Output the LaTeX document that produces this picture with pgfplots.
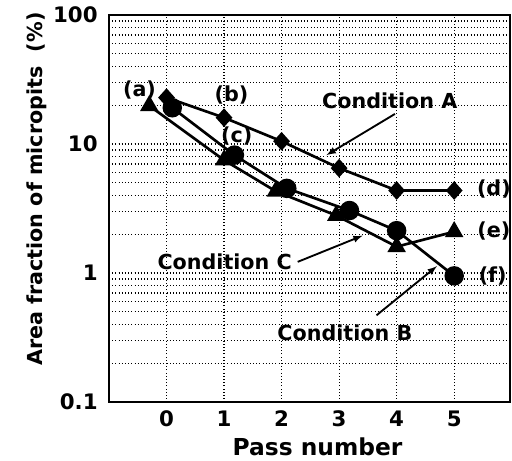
\documentclass[border=0pt]{standalone}
\usepackage{fontspec}
\setmainfont{DejaVu Sans}
\usepackage{pgfplots}
\pgfplotsset{compat=1.18}

\begin{document}
\begin{tikzpicture}
\useasboundingbox (-81.75pt,-44.25pt) rectangle (302.25pt,301.5pt);
\begin{axis}[
  at={(0,0)}, anchor=south west,
  scale only axis,
  width=300.75pt, height=290.25pt,
  ymode=log,
  xmin=-1, xmax=5.97,
  ymin=0.1, ymax=100,
  xtick={0,1,2,3,4,5},
  ytick={0.1,1,10,100},
  yticklabels={0.1,1,10,100},
  major tick length=0pt, minor tick length=0pt,
  grid=both,
  major grid style={black, dotted, line width=0.9pt},
  minor grid style={black, dotted, line width=0.9pt},
  axis line style={line width=1.3pt},
  font=\fontsize{15.5}{18}\selectfont\bfseries,
  /pgf/number format/assume math mode=true,
  ticklabel style={font=\fontsize{16}{18}\selectfont\bfseries},
  yticklabel style={xshift=-5pt},
  xticklabel style={yshift=-3pt},
  xlabel={Pass number},
  ylabel={Area fraction of micropits~~(\%)},
  xlabel style={at={(axis description cs:0.52,-0.116)}, anchor=center, font=\fontsize{17.5}{20}\selectfont\bfseries},
  ylabel style={at={(axis description cs:-0.18,0.55)}, anchor=center, font=\fontsize{15.5}{18}\selectfont\bfseries},
  every axis plot/.append style={black, line width=2pt},
  clip=false,
]
% Condition A
\addplot[mark=diamond*, mark size=5.5pt, mark options={xscale=1.2}] coordinates {
  (0,22.9) (1,16.0) (2,10.5) (3,6.5) (4,4.36) (5,4.36)};
% Condition B
\addplot[mark=*, mark size=6.3pt] coordinates {
  (0.1,19.1) (1.18,8.2) (2.09,4.53) (3.18,3.05) (4,2.13) (5,0.95)};
% Condition C
\addplot[mark=triangle*, mark size=6pt] coordinates {
  (-0.3,19.8) (1.0,7.5) (1.9,4.3) (2.95,2.79) (4,1.6) (5,2.09)};

\node at (axis cs:-0.47,26) {(a)};
\node at (axis cs:1.13,24) {(b)};
\node at (axis cs:1.22,11.5) {(c)};
\node at (axis cs:5.69,4.5) {(d)};
\node at (axis cs:5.69,2.1) {(e)};
\node at (axis cs:5.67,0.95) {(f)};

\node at (axis cs:3.88,21.7) {Condition A};
\draw[-latex, line width=1.4pt] (axis cs:3.97,17.1) -- (axis cs:2.78,8.2);
\node at (axis cs:1.01,1.22) {Condition C};
\draw[-latex, line width=1.4pt] (axis cs:2.28,1.22) -- (axis cs:3.41,1.95);
\node at (axis cs:3.10,0.346) {Condition B};
\draw[-latex, line width=1.4pt] (axis cs:3.65,0.47) -- (axis cs:4.70,1.13);
\end{axis}
\end{tikzpicture}
\end{document}
